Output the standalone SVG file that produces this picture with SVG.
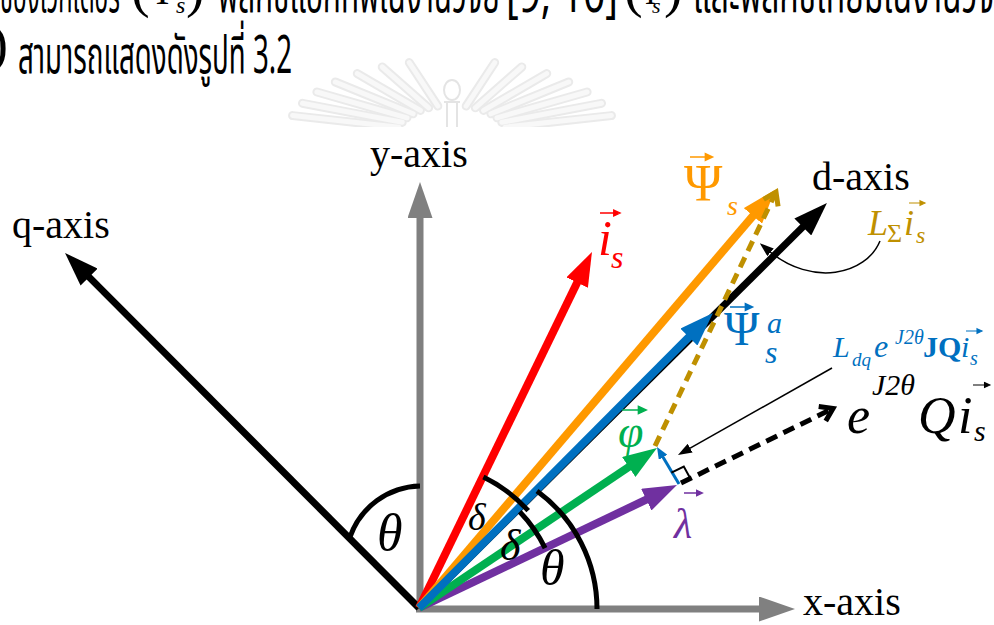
<svg xmlns="http://www.w3.org/2000/svg" xmlns:xlink="http://www.w3.org/1999/xlink" width="994" height="625" viewBox="0 0 994 625">
<style>
.ax{font-family:"Liberation Serif","Times New Roman",serif;font-size:40px;fill:#000}
.mi{font-family:"Liberation Serif","Times New Roman",serif;font-style:italic}
.up{font-family:"Liberation Serif","Times New Roman",serif}
.th{font-family:"Noto Sans","Noto Sans Thai","Leelawadee UI",sans-serif;font-size:52px;fill:#000}
.arc{fill:none;stroke:#000;stroke-width:5}
.ray1{stroke:#EAEAEA;stroke-width:9;stroke-linecap:round}
.ray2{stroke:#F8F8F8;stroke-width:5;stroke-linecap:round}
</style>
<defs>
<marker id="mGray" viewBox="0 0 36 25" markerWidth="36" markerHeight="25" refX="10" refY="12.5" orient="auto" markerUnits="userSpaceOnUse"><path d="M0,0 L36,12.5 L0,25 Z" fill="#808080"/></marker>
<marker id="mBlack" viewBox="0 0 34 24" markerWidth="34" markerHeight="24" refX="8" refY="12" orient="auto" markerUnits="userSpaceOnUse"><path d="M0,0 L34,12 L0,24 Z" fill="#000"/></marker>
<marker id="mRed" viewBox="0 0 34 24" markerWidth="34" markerHeight="24" refX="8" refY="12" orient="auto" markerUnits="userSpaceOnUse"><path d="M0,0 L34,12 L0,24 Z" fill="#FF0000"/></marker>
<marker id="mOrange" viewBox="0 0 34 24" markerWidth="34" markerHeight="24" refX="8" refY="12" orient="auto" markerUnits="userSpaceOnUse"><path d="M0,0 L34,12 L0,24 Z" fill="#FF9900"/></marker>
<marker id="mBlue" viewBox="0 0 34 24" markerWidth="34" markerHeight="24" refX="8" refY="12" orient="auto" markerUnits="userSpaceOnUse"><path d="M0,0 L34,12 L0,24 Z" fill="#0070C0"/></marker>
<marker id="mGreen" viewBox="0 0 34 24" markerWidth="34" markerHeight="24" refX="8" refY="12" orient="auto" markerUnits="userSpaceOnUse"><path d="M0,0 L34,12 L0,24 Z" fill="#00B050"/></marker>
<marker id="mPurple" viewBox="0 0 34 24" markerWidth="34" markerHeight="24" refX="8" refY="12" orient="auto" markerUnits="userSpaceOnUse"><path d="M0,0 L34,12 L0,24 Z" fill="#7030A0"/></marker>
<marker id="mBlueSm" viewBox="0 0 12 10" markerWidth="12" markerHeight="10" refX="3" refY="5" orient="auto" markerUnits="userSpaceOnUse"><path d="M0,0 L12,5 L0,10 Z" fill="#0070C0"/></marker>
<marker id="mThin" viewBox="0 0 14 10" markerWidth="14" markerHeight="10" refX="2" refY="5" orient="auto" markerUnits="userSpaceOnUse"><path d="M0,0 L14,5 L0,10 Z" fill="#000"/></marker>
<marker id="cBlack" viewBox="-17 -12 20 24" markerWidth="20" markerHeight="24" refX="0" refY="0" orient="auto" markerUnits="userSpaceOnUse" overflow="visible"><path d="M-12,-8 L0,0 L-12,8" fill="none" stroke="#000" stroke-width="5"/></marker>
<marker id="cGold" viewBox="-17 -12 20 24" markerWidth="20" markerHeight="24" refX="0" refY="0" orient="auto" markerUnits="userSpaceOnUse" overflow="visible"><path d="M-12,-8 L0,0 L-12,8" fill="none" stroke="#BF9000" stroke-width="5"/></marker>
<path id="acc" d="M0,0 H13 M11,-2.3 L16,0 L11,2.3 Z" fill="currentColor" stroke="currentColor" stroke-width="1.1"/>
<clipPath id="wmClip"><rect x="0" y="0" width="994" height="127"/></clipPath>
</defs>
<rect width="994" height="625" fill="#fff"/>

<g id="watermark" clip-path="url(#wmClip)">
<g class="ray1">
<line x1="437.8" y1="106" x2="409.3" y2="62.6"/><line x1="428.7" y1="107.8" x2="382.2" y2="67"/><line x1="420.4" y1="110.4" x2="357.3" y2="73.6"/><line x1="413.1" y1="113.8" x2="335.3" y2="82"/><line x1="407" y1="117.8" x2="316.9" y2="92"/><line x1="402.2" y1="122.3" x2="302.5" y2="103.3"/><line x1="398.9" y1="127.2" x2="292.6" y2="115.6"/>
<line x1="466.2" y1="106" x2="494.7" y2="62.6"/><line x1="475.3" y1="107.8" x2="521.8" y2="67"/><line x1="483.6" y1="110.4" x2="546.7" y2="73.6"/><line x1="490.9" y1="113.8" x2="568.7" y2="82"/><line x1="497" y1="117.8" x2="587.1" y2="92"/><line x1="501.8" y1="122.3" x2="601.5" y2="103.3"/><line x1="505.1" y1="127.2" x2="611.4" y2="115.6"/>
</g>
<g class="ray2">
<line x1="437.8" y1="106" x2="409.3" y2="62.6"/><line x1="428.7" y1="107.8" x2="382.2" y2="67"/><line x1="420.4" y1="110.4" x2="357.3" y2="73.6"/><line x1="413.1" y1="113.8" x2="335.3" y2="82"/><line x1="407" y1="117.8" x2="316.9" y2="92"/><line x1="402.2" y1="122.3" x2="302.5" y2="103.3"/><line x1="398.9" y1="127.2" x2="292.6" y2="115.6"/>
<line x1="466.2" y1="106" x2="494.7" y2="62.6"/><line x1="475.3" y1="107.8" x2="521.8" y2="67"/><line x1="483.6" y1="110.4" x2="546.7" y2="73.6"/><line x1="490.9" y1="113.8" x2="568.7" y2="82"/><line x1="497" y1="117.8" x2="587.1" y2="92"/><line x1="501.8" y1="122.3" x2="601.5" y2="103.3"/><line x1="505.1" y1="127.2" x2="611.4" y2="115.6"/>
</g>
<ellipse cx="452" cy="90" rx="8" ry="10" fill="none" stroke="#E4E4E4" stroke-width="2"/>
<path d="M444,102 H460 M447,102 V127 M457,102 V127" fill="none" stroke="#E4E4E4" stroke-width="2"/>
</g>

<g id="header-text">
<text class="th" x="0" y="12" textLength="120" lengthAdjust="spacingAndGlyphs">ของเวกเตอร์</text>
<text class="up" x="131" y="6" font-size="56">(</text>
<text class="up" x="147" y="4" font-size="42">Ψ</text>
<text class="mi" x="176" y="13" font-size="24">s</text>
<text class="up" x="186" y="6" font-size="56">)</text>
<text class="th" x="218" y="12" textLength="282" lengthAdjust="spacingAndGlyphs">ฟลักซ์แอกทีฟในงานวิจัย</text>
<text class="th" x="506" y="12" font-size="40" textLength="112" lengthAdjust="spacingAndGlyphs">[9, 10]</text>
<text class="up" x="624" y="6" font-size="56">(</text>
<text class="up" x="638" y="4" font-size="34">Ψ</text>
<text class="mi" x="652" y="13" font-size="22">s</text>
<text class="up" x="664" y="6" font-size="56">)</text>
<text class="th" x="693" y="12" textLength="320" lengthAdjust="spacingAndGlyphs">และฟลักซ์เทียมในงานวิจัย</text>
<text class="up" x="-10" y="62" font-size="54">)</text>
<text class="th" x="18" y="73" textLength="274" lengthAdjust="spacingAndGlyphs">สามารถแสดงดังรูปที่ 3.2</text>
</g>

<g id="connectors">
<line id="x-axis-line" x1="416" y1="609" x2="769" y2="609" stroke="#808080" stroke-width="7" marker-end="url(#mGray)"/>
<line id="y-axis-line" x1="420" y1="612" x2="420" y2="208" stroke="#808080" stroke-width="7" marker-end="url(#mGray)"/>
<line id="q-axis-line" x1="419" y1="608" x2="83.4" y2="271.4" stroke="#000" stroke-width="7" marker-end="url(#mBlack)"/>
<line id="d-axis-line" x1="419" y1="608" x2="808.5" y2="221.3" stroke="#000" stroke-width="7" marker-end="url(#mBlack)"/>
<line id="is-vec" x1="419" y1="608" x2="580.6" y2="275.4" stroke="#FF0000" stroke-width="8" marker-end="url(#mRed)"/>
<line id="psis-vec" x1="419" y1="608" x2="758.1" y2="209.8" stroke="#FF9900" stroke-width="8" marker-end="url(#mOrange)"/>
<line id="lambda-vec" x1="419" y1="608" x2="653.5" y2="496.2" stroke="#7030A0" stroke-width="8" marker-end="url(#mPurple)"/>
<line id="phi-vec" x1="419" y1="608" x2="635.4" y2="462.5" stroke="#00B050" stroke-width="8" marker-end="url(#mGreen)"/>
<line id="psia-vec" x1="419" y1="608" x2="694.6" y2="331.4" stroke="#0070C0" stroke-width="8" marker-end="url(#mBlue)"/>
<line id="ldq-vec" x1="679" y1="484" x2="661.6" y2="454.7" stroke="#0070C0" stroke-width="3" marker-end="url(#mBlueSm)"/>
<line id="lsum-vec" x1="655" y1="446" x2="776" y2="192" stroke="#BF9000" stroke-width="5" stroke-dasharray="11 7" marker-end="url(#cGold)"/>
<line id="qis-vec" x1="681" y1="483" x2="833" y2="408.5" stroke="#000" stroke-width="5" stroke-dasharray="12 7" marker-end="url(#cBlack)"/>
<polyline id="right-angle" points="671.4,472.7 683.8,466.5 690.5,478.8" fill="none" stroke="#000" stroke-width="2"/>
<line id="ldq-pointer" x1="832" y1="368" x2="688.4" y2="449.1" stroke="#000" stroke-width="1.5" marker-end="url(#mThin)"/>
<path id="lsum-pointer" d="M880,241 C866,275 812,287 769,251" fill="none" stroke="#000" stroke-width="1.5" marker-end="url(#mThin)"/>
</g>

<g id="angles">
<path class="arc" d="M350,537 A76,76 0 0,1 420,486"/>
<path class="arc" d="M597,609 A146,146 0 0,0 537,491"/>
<path class="arc" d="M483.4,476.9 A147,147 0 0,1 528.2,510.6"/>
<path class="arc" d="M519.7,511.7 A140,140 0 0,1 545.1,548.2"/>
</g>

<g id="axis-labels">
<text class="ax" x="12" y="238">q-axis</text>
<text class="ax" x="370" y="167">y-axis</text>
<text class="ax" x="812" y="190">d-axis</text>
<text class="ax" x="803" y="615" font-size="41">x-axis</text>
</g>

<g id="label-is" fill="#FF0000">
<use href="#acc" transform="translate(600,213) scale(1.25)" style="color:#FF0000"/>
<text class="mi" x="598" y="255" font-size="50">i</text>
<text class="mi" x="611" y="268" font-size="32">s</text>
</g>
<g id="label-psis" fill="#FF9900">
<use href="#acc" transform="translate(690,157) scale(1.4)" style="color:#FF9900"/>
<text class="up" x="684" y="201" font-size="52">Ψ</text>
<text class="mi" x="727" y="215" font-size="28">s</text>
</g>
<g id="label-psia" fill="#0070C0">
<use href="#acc" transform="translate(730,307) scale(1.4)" style="color:#0070C0"/>
<text class="up" x="724" y="345" font-size="48">Ψ</text>
<text class="mi" x="767" y="333" font-size="30">a</text>
<text class="mi" x="765" y="363" font-size="32">s</text>
</g>
<g id="label-ldq" fill="#0070C0">
<text class="mi" x="833" y="357" font-size="30">L</text>
<text class="mi" x="852" y="366" font-size="19">dq</text>
<text class="mi" x="874" y="357" font-size="32">e</text>
<text class="mi" x="895" y="344" font-size="20">J2θ</text>
<text class="up" x="923" y="357" font-size="30" font-weight="bold">JQ</text>
<text class="mi" x="961" y="357" font-size="30">i</text>
<text class="mi" x="970" y="365" font-size="20">s</text>
<use href="#acc" transform="translate(966,331) scale(1)" style="color:#0070C0"/>
</g>
<g id="label-qis" fill="#000">
<text class="mi" x="847" y="433" font-size="52">e</text>
<text class="mi" x="872" y="395" font-size="30">J2θ</text>
<text class="mi" x="918" y="433" font-size="52">Q</text>
<text class="mi" x="958" y="433" font-size="52">i</text>
<text class="mi" x="974" y="441" font-size="30">s</text>
<use href="#acc" transform="translate(973,385) scale(1.05)" style="color:#000"/>
</g>
<g id="label-lsum" fill="#BF9000">
<text class="mi" x="868" y="235" font-size="36">L</text>
<text class="up" x="887" y="242" font-size="26">Σ</text>
<text class="mi" x="904" y="235" font-size="36">i</text>
<text class="mi" x="916" y="243" font-size="24">s</text>
<use href="#acc" transform="translate(909,203) scale(1)" style="color:#BF9000"/>
</g>
<g id="label-phi" fill="#00B050">
<use href="#acc" transform="translate(622,410) scale(1.5)" style="color:#00B050"/>
<text class="mi" x="618" y="447" font-size="46">φ</text>
</g>
<g id="label-lambda" fill="#7030A0">
<use href="#acc" transform="translate(684,493) scale(1.15)" style="color:#7030A0"/>
<text class="mi" x="674" y="538" font-size="42">λ</text>
</g>
<g id="label-angles" fill="#000">
<text class="mi" x="377" y="550" font-size="52">θ</text>
<text class="mi" x="540" y="585" font-size="50">θ</text>
<text class="mi" x="468" y="530" font-size="38">δ</text>
<text class="mi" x="500" y="560" font-size="44">δ</text>
</g>
</svg>
